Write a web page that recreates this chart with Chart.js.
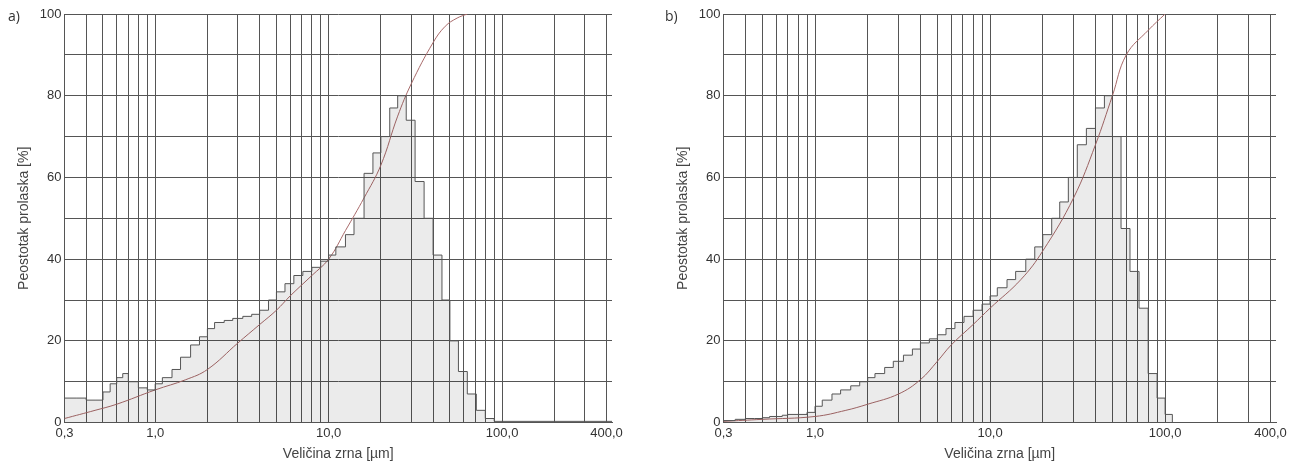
<!DOCTYPE html>
<html><head><meta charset="utf-8">
<script src="https://cdn.jsdelivr.net/npm/chart.js@4.4.0/dist/chart.umd.min.js"></script>
<style>
body{margin:0;background:#fff;font-family:"Open Sans",sans-serif;}
.wrap{position:absolute;top:0;height:467px;}
.lbl{position:absolute;top:6px;font-size:14px;color:#333;}
</style></head><body>
<div class="wrap" style="left:0;width:628px"><canvas id="ca"></canvas></div>
<div class="wrap" style="left:655px;width:637px"><canvas id="cb"></canvas></div>
<div class="lbl" style="left:8px">a)</div>
<div class="lbl" style="left:665px">b)</div>
<script>
const gridTicks = [0.3,0.4,0.5,0.6,0.7,0.8,0.9,1,2,3,4,5,6,7,8,9,10,20,30,40,50,60,70,80,90,100,200,300,400];
const labelTicks = [0.3,1,10,100,400];

// bin lower edges (µm)
const binsA = [0.3,0.35,0.4,0.45,0.5,0.55,0.6,0.65,0.7,0.8,0.9,1.0,1.1,1.25,1.4,1.6,1.8,2.0,2.2,2.5,2.8,3.2,3.6,4.0,4.5,5.0,5.6,6.3,7.1,8.0,9.0,10,11,12.5,14,16,18,20,22.5,25,28,31.5,35.5,40,45,50,56,63,71,80,90,100,430];
const histA = [6,6,6,5.5,5.5,7.5,9.5,11,12,10,8.5,8,9.5,11,13,16,19,21,23,24.5,25,25.5,26,26.5,27.5,30,32,34,36,37,38,39.5,41,43,46,50,61,66,70,77,80,74,59,50,41,30,20,12.5,7,3,1,0.3,0.3];
const cumXA = [0.3,0.45,0.6,1.0,1.5,2,3,4,5,6,8,10,12.5,16,20,25,30,40,47,55,63];
const cumYA = [1,3,4.5,8,10.5,13,19.5,24,27.5,31,36,40,47,55,63,75,83,93,97,99,100];

const binsB = [0.3,0.35,0.4,0.45,0.5,0.55,0.6,0.65,0.7,0.8,0.9,1.0,1.1,1.25,1.4,1.6,1.8,2.0,2.2,2.5,2.8,3.2,3.6,4.0,4.5,5.0,5.6,6.3,7.1,8.0,9.0,10,11,12.5,14,16,18,20,22.5,25,28,31.5,35.5,40,45,50,56,63,71,80,90,100,110,430];
const histB = [0.5,0.5,0.8,1,1,1.2,1.5,1.5,1.8,2,2,2.5,4,5.5,7,8,9,10,11,12,13.5,15,16.5,18,19.5,20.5,21.5,23,24.5,26,27.5,29,31,33,35,37,40,43,46,50,54,60,68,72,77,80,70,47.5,37,28,12,6,2,0];
const cumXB = [0.3,0.5,1,1.5,2,3,4,5,6,8,10,15,20,30,40,50,60,80,100];
const cumYB = [0.3,0.8,1.5,3,4.5,7,10.5,15,19,24,28,35,42,55,68,80,90,96,100];

function makeChart(id, bins, hist, cx, cy, padLeft) {
    new Chart(document.getElementById(id), {
        type: 'line',
        data: {
            datasets: [
                {
                    data: bins.map((b, i) => ({ x: b, y: hist[i] })),
                    stepped: 'after',
                    borderColor: '#555',
                    borderWidth: 1,
                    backgroundColor: 'rgba(0,0,0,0.08)',
                    fill: 'origin',
                    pointRadius: 0
                },
                {
                    data: cx.map((x, i) => ({ x: x, y: cy[i] })),
                    borderColor: '#a86a6a',
                    borderWidth: 1,
                    tension: 0.4,
                    fill: false,
                    pointRadius: 0
                }
            ]
        },
        options: {
            responsive: true,
            maintainAspectRatio: false,
            animation: false,
            layout: { padding: { left: padLeft, top: 14, right: 16, bottom: 0 } },
            plugins: { legend: { display: false }, tooltip: { enabled: false } },
            scales: {
                x: {
                    type: 'logarithmic', min: 0.3, max: 430,
                    afterBuildTicks: s => { s.ticks = gridTicks.map(v => ({ value: v })); },
                    ticks: {
                        autoSkip: false, maxRotation: 0, color: '#333', font: { size: 13 },
                        callback: v => labelTicks.includes(v) ? v.toFixed(1).replace('.', ',') : ''
                    },
                    grid: { color: '#555', lineWidth: 1, drawTicks: false },
                    border: { color: '#555' },
                    title: { display: true, text: 'Veličina zrna [µm]', color: '#444', font: { size: 14 }, padding: { top: 2 } }
                },
                y: {
                    min: 0, max: 100,
                    ticks: { stepSize: 10, color: '#333', font: { size: 13 },
                        callback: v => v % 20 === 0 ? v : '' },
                    grid: { color: '#555', lineWidth: 1, drawTicks: false },
                    border: { color: '#555' },
                    title: { display: true, text: 'Peostotak prolaska [%]', color: '#444', font: { size: 14 } }
                }
            }
        }
    });
}
makeChart('ca', binsA, histA, cumXA, cumYA, 12);
makeChart('cb', binsB, histB, cumXB, cumYB, 16);
</script>
</body></html>
